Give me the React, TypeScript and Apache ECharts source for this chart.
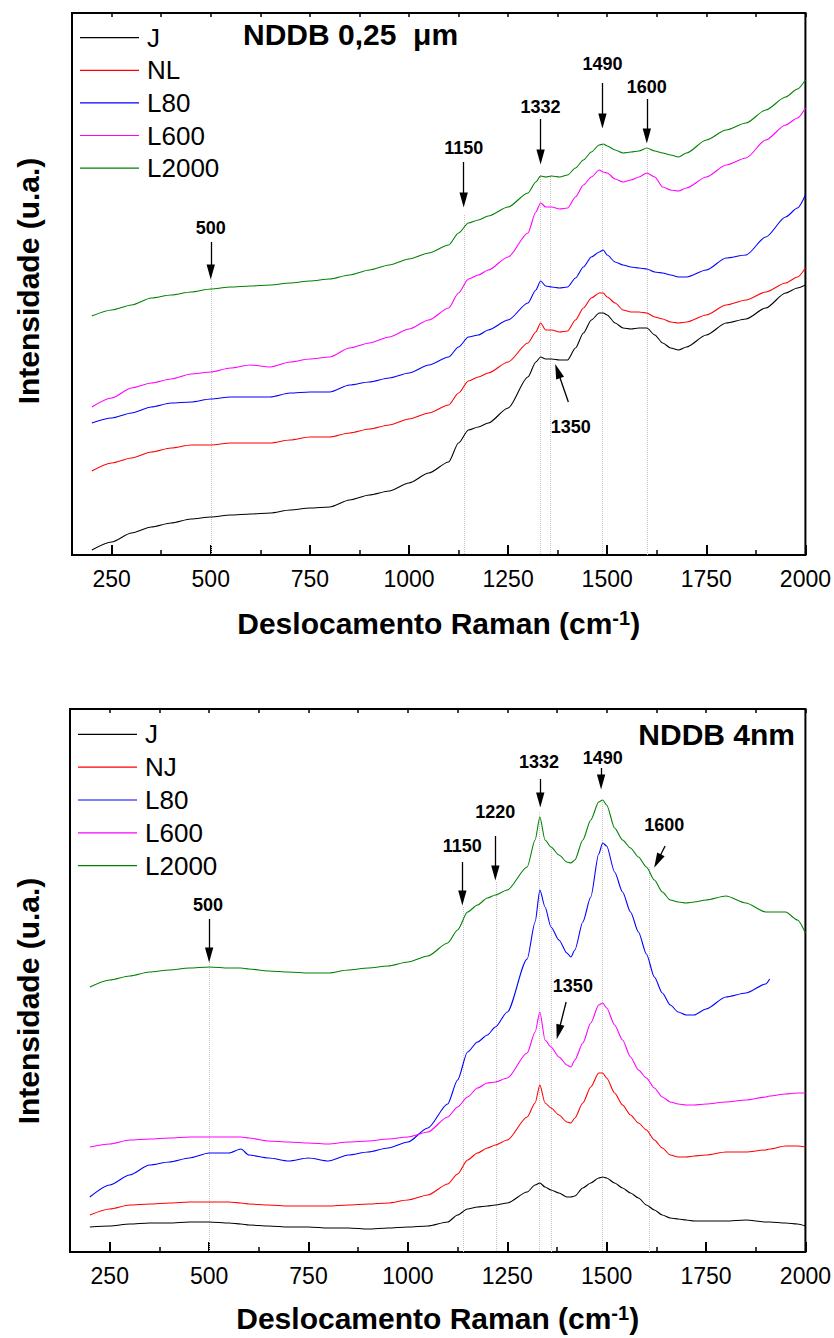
import React, { useEffect, useRef } from "react";
import * as echarts from "echarts";

// ---------- data (intensity in arbitrary units) ----------
const TOP_X = [200, 250, 300, 350, 400, 450, 500, 550, 600, 650, 700, 750, 800, 850, 900, 950, 1000, 1050, 1100, 1125, 1150, 1175, 1200, 1250, 1300, 1320, 1332, 1345, 1360, 1380, 1400, 1420, 1440, 1460, 1480, 1490, 1500, 1520, 1540, 1560, 1580, 1600, 1620, 1640, 1660, 1680, 1700, 1750, 1800, 1850, 1900, 1950, 1980, 2000];
const TOP_J = [5, 13, 22, 28, 32, 36, 38, 40, 41, 42, 45, 47, 48, 55, 60, 64, 72, 82, 93, 112, 125, 128, 132, 147, 178, 193, 198, 196, 196, 195, 195, 207, 222, 235, 242, 242, 240, 232, 227, 226, 227, 227, 220, 212, 207, 205, 208, 220, 232, 236, 247, 262, 267, 270];
const TOP_NL = [84, 92, 97, 103, 107, 110, 110, 112, 112, 112, 115, 118, 118, 122, 126, 130, 136, 142, 150, 162, 174, 178, 182, 193, 212, 223, 232, 225, 225, 223, 224, 235, 247, 257, 262, 262, 258, 252, 245, 243, 243, 242, 238, 236, 233, 232, 233, 240, 250, 255, 263, 272, 278, 287];
const TOP_L80 = [132, 137, 142, 148, 152, 153, 156, 158, 158, 158, 162, 163, 163, 170, 173, 177, 182, 190, 198, 208, 218, 220, 225, 235, 252, 265, 274, 269, 268, 267, 268, 277, 288, 298, 303, 305, 300, 293, 290, 288, 287, 286, 283, 282, 280, 278, 278, 285, 297, 300, 318, 338, 347, 360];
const TOP_L600 = [148, 157, 167, 172, 176, 181, 183, 187, 190, 188, 193, 196, 198, 207, 212, 218, 226, 235, 247, 262, 276, 280, 285, 298, 322, 343, 352, 348, 348, 346, 347, 358, 370, 378, 385, 383, 382, 376, 373, 375, 378, 382, 378, 368, 365, 364, 367, 378, 390, 397, 415, 430, 437, 447];
const TOP_L2000 = [239, 245, 250, 257, 260, 263, 266, 268, 269, 270, 272, 274, 276, 280, 285, 290, 296, 302, 310, 322, 332, 335, 339, 348, 362, 373, 379, 378, 379, 378, 380, 387, 395, 403, 410, 411, 409, 405, 402, 403, 404, 407, 404, 402, 400, 398, 402, 415, 425, 432, 445, 458, 466, 475];

const BOT_X = [200, 250, 300, 350, 400, 450, 500, 550, 580, 600, 650, 700, 750, 800, 850, 900, 950, 1000, 1050, 1100, 1125, 1150, 1175, 1200, 1220, 1250, 1300, 1320, 1332, 1345, 1360, 1380, 1400, 1410, 1420, 1440, 1460, 1480, 1490, 1500, 1520, 1540, 1560, 1580, 1600, 1620, 1640, 1660, 1680, 1700, 1720, 1750, 1800, 1850, 1900, 1910, 1950, 1980, 2000];
const BOT_J = [25, 26, 28, 29, 29, 30, 30, 29, 28, 27, 26, 25, 25, 24, 24, 23, 24, 25, 26, 30, 37, 43, 45, 46, 47, 49, 60, 67, 69, 65, 62, 59, 55, 55, 56, 64, 69, 74, 75, 74, 69, 64, 59, 54, 47, 42, 37, 34, 33, 32, 31, 31, 31, 32, 30, 30, 29, 28, 26];
const BOT_NJ = [37, 43, 47, 48, 49, 50, 50, 50, 49, 48, 47, 46, 46, 46, 47, 48, 49, 52, 57, 68, 78, 92, 99, 104, 107, 112, 135, 149, 167, 149, 144, 137, 130, 129, 134, 149, 165, 179, 179, 174, 159, 147, 137, 129, 122, 112, 104, 97, 95, 95, 96, 97, 100, 100, 102, 103, 106, 106, 105];
const BOT_L80 = [55, 67, 77, 87, 90, 94, 99, 99, 103, 97, 94, 91, 94, 91, 97, 100, 104, 110, 124, 148, 172, 200, 210, 217, 225, 240, 293, 330, 362, 345, 325, 312, 299, 295, 302, 330, 355, 398, 409, 406, 380, 360, 340, 320, 298, 275, 259, 247, 240, 237, 237, 243, 255, 259, 268, 273, null, null, null];
const BOT_L600 = [105, 108, 112, 113, 114, 115, 115, 115, 115, 114, 111, 110, 109, 108, 110, 111, 113, 115, 120, 135, 145, 155, 164, 169, 170, 174, 199, 220, 240, 212, 205, 195, 187, 185, 192, 209, 229, 247, 249, 244, 227, 212, 195, 182, 174, 164, 155, 150, 148, 147, 147, 148, 150, 152, 155, 156, 158, 159, 159];
const BOT_L2000 = [265, 272, 276, 280, 282, 284, 285, 284, 284, 283, 281, 280, 279, 279, 282, 284, 286, 290, 296, 309, 322, 340, 347, 354, 357, 362, 385, 412, 435, 412, 405, 397, 390, 389, 392, 412, 432, 450, 452, 447, 424, 412, 404, 395, 385, 372, 360, 352, 350, 349, 350, 352, 356, 349, 340, 340, 340, 332, 319];

const TOP_NAMES = ["J", "NL", "L80", "L600", "L2000"];
const BOT_NAMES = ["J", "NJ", "L80", "L600", "L2000"];
const COLORS = ["#000000", "#ff0000", "#0000ff", "#ff00ff", "#008000"];

const MAJOR_TICKS = [250, 500, 750, 1000, 1250, 1500, 1750, 2000];
const MINOR_TICKS = [375, 625, 875, 1125, 1375, 1625, 1875];
const ALL_TICKS = [250, 375, 500, 625, 750, 875, 1000, 1125, 1250, 1375, 1500, 1625, 1750, 1875, 2000];

// annotations: [label, labelX, labelY, arrowX1, arrowY1, arrowX2, arrowY2]
const TOP_ANN = [
  ["500", 500, 327, 500, 313, 500, 283],
  ["1150", 1138, 407, 1138, 393, 1138, 355],
  ["1332", 1332, 448, 1332, 436, 1332, 398],
  ["1490", 1488, 491, 1488, 472, 1488, 434],
  ["1600", 1600, 468, 1600, 456, 1600, 419],
  ["1350", 1408, 128, 1402, 153, 1375, 184],
];
const TOP_DOTS = [[500, 276], [1140, 340], [1332, 380], [1356, 380], [1488, 410], [1600, 405]];

const BOT_ANN = [
  ["500", 497, 347, 500, 333, 500, 297],
  ["1150", 1137, 406, 1137, 390, 1137, 354],
  ["1220", 1220, 440, 1220, 416, 1220, 379],
  ["1332", 1330, 490, 1333, 473, 1333, 452],
  ["1490", 1490, 494, 1486, 484, 1486, 470],
  ["1600", 1645, 427, 1647, 406, 1628, 391],
  ["1350", 1415, 266, 1398, 250, 1379, 220],
];
const BOT_DOTS = [[500, 290], [1138, 345], [1222, 370], [1331, 440], [1360, 405], [1488, 450], [1607, 385]];

const FONT = "'Liberation Sans', Arial, sans-serif";
const ARROW = "path://M5,0L10,18L0,18Z";
const LEGEND_ICON = "path://M0,0L60,0L60,1.2L0,1.2Z";
const Y_TITLE = "Intensidade (u.a.)";

const zip = (xs: number[], ys: (number | null)[]) => xs.map((x, i) => [x, ys[i]]);

function buildOption() {
  const grids = [
    { left: 72, top: 13, width: 737, height: 542 },
    { left: 70, top: 709, width: 736.5, height: 543 },
  ];
  const yMax = [542, 543];
  const xAxis: any[] = [];
  const yAxis: any[] = [];
  grids.forEach((g, gi) => {
    xAxis.push({
      type: "value",
      gridIndex: gi,
      min: 150,
      max: 2000,
      position: "bottom",
      axisLine: { show: false },
      splitLine: { show: false },
      axisTick: { show: true, inside: true, length: 10, customValues: MAJOR_TICKS, lineStyle: { color: "#000", width: 2 } },
      axisLabel: { show: true, customValues: MAJOR_TICKS, formatter: (v: number) => String(v), color: "#000", fontSize: 23, fontFamily: FONT, margin: 12 },
      name: "{a|Deslocamento Raman (cm}{s|-1}{a|)}",
      nameLocation: "middle",
      nameGap: gi === 0 ? 53 : 51,
      nameTextStyle: {
        rich: {
          a: { fontSize: 30, fontWeight: "bold", fontFamily: FONT, color: "#000", lineHeight: 30, padding: [8, 0, 0, 0], verticalAlign: "bottom" },
          s: { fontSize: 20, fontWeight: "bold", fontFamily: FONT, color: "#000", lineHeight: 16, verticalAlign: "top" },
        },
      },
    });
    xAxis.push({
      type: "value",
      gridIndex: gi,
      min: 150,
      max: 2000,
      position: "bottom",
      axisLine: { show: false },
      splitLine: { show: false },
      axisTick: { show: true, inside: true, length: 5, customValues: MINOR_TICKS, lineStyle: { color: "#000", width: 1.5 } },
      axisLabel: { show: false },
    });
    xAxis.push({
      type: "value",
      gridIndex: gi,
      min: 150,
      max: 2000,
      position: "top",
      axisLine: { show: false },
      splitLine: { show: false },
      axisTick: { show: true, inside: true, length: 4, customValues: ALL_TICKS, lineStyle: { color: "#000", width: 1.5 } },
      axisLabel: { show: false },
    });
    yAxis.push({
      type: "value",
      gridIndex: gi,
      min: 0,
      max: yMax[gi],
      axisLine: { show: false },
      axisTick: { show: false },
      axisLabel: { show: false },
      splitLine: { show: false },
    });
  });

  const series: any[] = [];
  const topData = [TOP_J, TOP_NL, TOP_L80, TOP_L600, TOP_L2000];
  const botData = [BOT_J, BOT_NJ, BOT_L80, BOT_L600, BOT_L2000];

  const dotSeries = (gi: number, dots: number[][]) => ({
    type: "line",
    name: "_dots" + gi,
    xAxisIndex: gi * 3,
    yAxisIndex: gi,
    data: [],
    z: 1,
    silent: true,
    markLine: {
      silent: true,
      symbol: ["none", "none"],
      label: { show: false },
      lineStyle: { type: "dotted", color: "#c4c4c4", width: 1 },
      z: 1,
      data: dots.map((d) => [{ coord: [d[0], d[1]] }, { coord: [d[0], 0] }]),
    },
  });
  series.push(dotSeries(0, TOP_DOTS));
  series.push(dotSeries(1, BOT_DOTS));

  const lineSeries = (name: string, gi: number, xs: number[], ys: (number | null)[], color: string) => ({
    type: "line",
    name,
    xAxisIndex: gi * 3,
    yAxisIndex: gi,
    data: zip(xs, ys),
    symbol: "none",
    showSymbol: false,
    smooth: 0.25,
    smoothMonotone: "x",
    connectNulls: false,
    z: 2,
    lineStyle: { color, width: 1.1 },
    itemStyle: { color },
  });
  topData.forEach((d, i) => series.push(lineSeries(TOP_NAMES[i], 0, TOP_X, d, COLORS[i])));
  botData.forEach((d, i) => series.push(lineSeries(BOT_NAMES[i], 1, BOT_X, d, COLORS[i])));

  const annSeries = (gi: number, ann: any[]) => ({
    type: "line",
    name: "_ann" + gi,
    xAxisIndex: gi * 3,
    yAxisIndex: gi,
    data: [],
    z: 5,
    silent: true,
    markLine: {
      silent: true,
      symbol: ["none", ARROW],
      symbolSize: 15,
      symbolKeepAspect: true,
      label: { show: false },
      lineStyle: { type: "solid", color: "#000", width: 1.3 },
      itemStyle: { color: "#000" },
      z: 5,
      data: ann.map((a) => [{ coord: [a[3], a[4]] }, { coord: [a[5], a[6]] }]),
    },
    markPoint: {
      silent: true,
      symbol: "rect",
      symbolSize: 1,
      itemStyle: { color: "rgba(0,0,0,0)" },
      label: { show: true, position: "inside", formatter: "{b}", fontSize: 18, fontWeight: "bold", fontFamily: FONT, color: "#000" },
      data: ann.map((a) => ({ name: a[0], coord: [a[1], a[2]], value: a[1] })),
    },
  });
  series.push(annSeries(0, TOP_ANN));
  series.push(annSeries(1, BOT_ANN));

  const legendBase = {
    orient: "vertical",
    itemWidth: 59,
    itemHeight: 26,
    itemGap: 6.6,
    padding: 0,
    selectedMode: false,
    icon: LEGEND_ICON,
    textStyle: { fontSize: 26, color: "#000", fontFamily: FONT, lineHeight: 26, padding: [0, 0, 0, 3] },
  };

  const yTitle = (y: number) => ({
    type: "text",
    x: 28,
    y,
    rotation: Math.PI / 2,
    silent: true,
    style: { text: Y_TITLE, fontSize: 30, fontWeight: "bold", fontFamily: FONT, fill: "#000", align: "center", verticalAlign: "middle" },
  });

  return {
    animation: false,
    backgroundColor: "#ffffff",
    grid: grids.map((g) => ({ ...g, show: true, borderColor: "#000", borderWidth: 2, backgroundColor: "transparent", containLabel: false })),
    title: [
      { text: "NDDB 0,25  μm", left: 243, top: 19, padding: 0, textStyle: { fontSize: 30, fontWeight: "bold", fontFamily: FONT, color: "#000" } },
      { text: "NDDB 4nm", right: 39, top: 719, padding: 0, textStyle: { fontSize: 30, fontWeight: "bold", fontFamily: FONT, color: "#000" } },
    ],
    legend: [
      { ...legendBase, data: TOP_NAMES, left: 80, top: 24.7 },
      { ...legendBase, data: BOT_NAMES, left: 78, top: 721.3, itemGap: 6.85 },
    ],
    graphic: [yTitle(281), yTitle(1001)],
    xAxis,
    yAxis,
    series,
  };
}

export default function App() {
  const ref = useRef<HTMLDivElement>(null);
  useEffect(() => {
    if (!ref.current) return;
    const chart = echarts.init(ref.current, undefined, { renderer: "svg" });
    chart.setOption(buildOption() as any);
    return () => chart.dispose();
  }, []);
  return (
    <div
      ref={ref}
      style={{ position: "absolute", left: 0, top: 0, width: 834, height: 1338, background: "#fff" }}
    />
  );
}
